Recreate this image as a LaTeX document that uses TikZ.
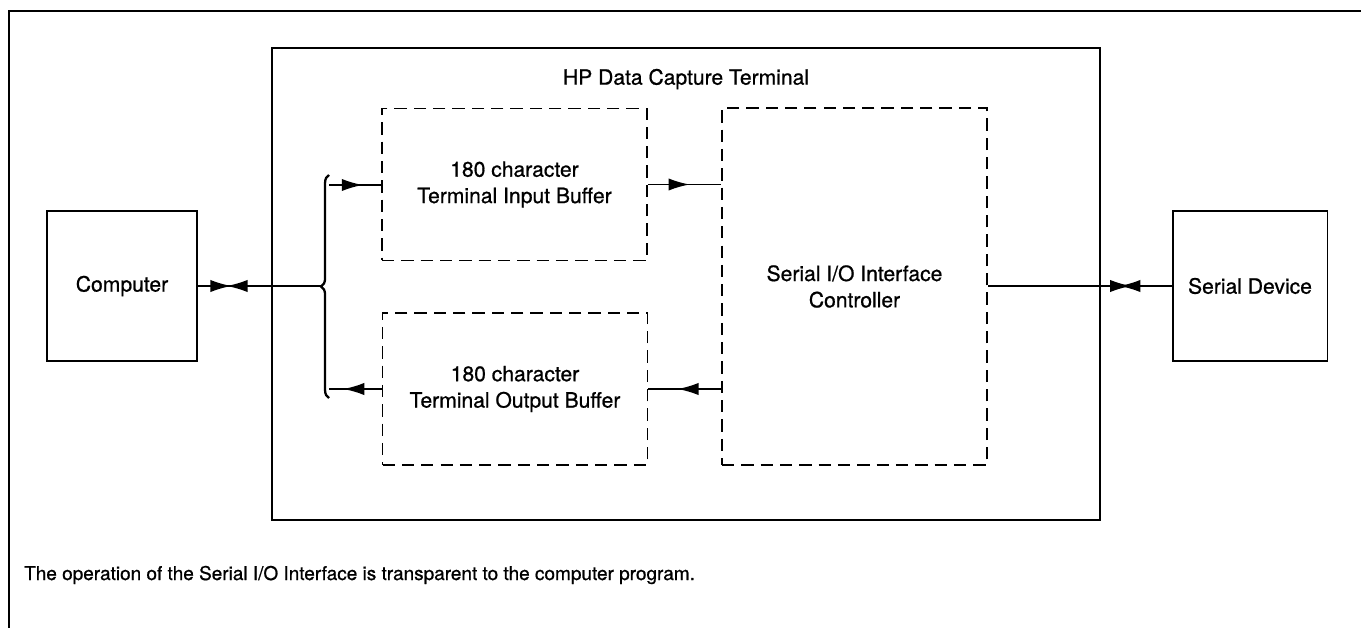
\documentclass[tikz,border=0pt]{standalone}
\usepackage{fontspec}
\setmainfont{TeX Gyre Heros}[FakeBold=0.8]
\usetikzlibrary{arrows.meta,decorations.pathreplacing,decorations.markings}

\tikzset{
  block/.style={draw, line width=1.1pt, align=center,
                font=\fontsize{12}{15}\selectfont},
  buffer/.style={block, dash pattern=on 7pt off 4pt},
  link/.style={line width=1pt},
  fwd/.style={link, postaction={decorate},
              decoration={markings,
                mark=at position #1 with {\arrow{Latex[length=12pt,width=7pt]}}}},
  % two heads meeting in the middle of a line
  meet/.style 2 args={link, postaction={decorate},
              decoration={markings,
                mark=at position #1 with {\arrow{Latex[length=12pt,width=7pt]}},
                mark=at position #2 with {\arrow{Latex[length=12pt,width=7pt,reversed]}}}}
}

\begin{document}
\begin{tikzpicture}[x=0.02cm, y=-0.02cm]
  \useasboundingbox (0,0) rectangle (1361,628);

  % open outer frame
  \draw[line width=1.4pt] (9,628) -- (9,11) -- (1361,11);

  % terminal housing
  \node[draw, line width=1.1pt, minimum width=16.56cm, minimum height=9.44cm]
    (term) at (686,284) {};
  \node[font=\fontsize{12}{15}\selectfont] (title) at ([yshift=-0.64cm]term.north)
    {HP Data Capture Terminal};

  \node[block, minimum width=3cm, minimum height=3cm] (comp) at (122,286) {Computer};
  \node[block, minimum width=3.1cm, minimum height=3cm] (dev) at (1250,286) {Serial Device};

  \node[buffer, minimum width=5.3cm, minimum height=3.04cm] (inbuf) at (514.5,184.5)
    {180 character\\Terminal Input Buffer};
  \node[buffer, minimum width=5.3cm, minimum height=3.04cm] (outbuf) at (515,389)
    {180 character\\Terminal Output Buffer};
  \node[buffer, minimum width=5.3cm, minimum height=7.14cm] (ctrl) at (854.5,286.5)
    {Serial I/O Interface\\Controller};

  % fan-out brace
  \draw[line width=1.3pt, decorate, decoration={brace, amplitude=4.5pt}]
    (329,398) -- (329,175);
  \coordinate (tip) at (322,286);
  \coordinate (armin) at (329,185);
  \coordinate (armout) at (329,390);

  \draw[meet={0.27}{0.40}] (comp.east) -- (tip);
  \draw[meet={0.78}{0.83}] (ctrl.east |- dev.west) -- (dev.west);
  \draw[fwd=0.65] (armin) -- (armin -| inbuf.west);
  \draw[fwd=0.57] (inbuf.east) -- (inbuf.east -| ctrl.west);
  \draw[fwd=0.6] (ctrl.west |- outbuf.east) -- (outbuf.east);
  \draw[fwd=0.73] (outbuf.west) -- (outbuf.west -| armout);

  \node[anchor=west, font=\fontsize{10.8}{13}\selectfont] (note) at (18,575)
    {The operation of the Serial I/O Interface is transparent to the computer program.};
\end{tikzpicture}
\end{document}
